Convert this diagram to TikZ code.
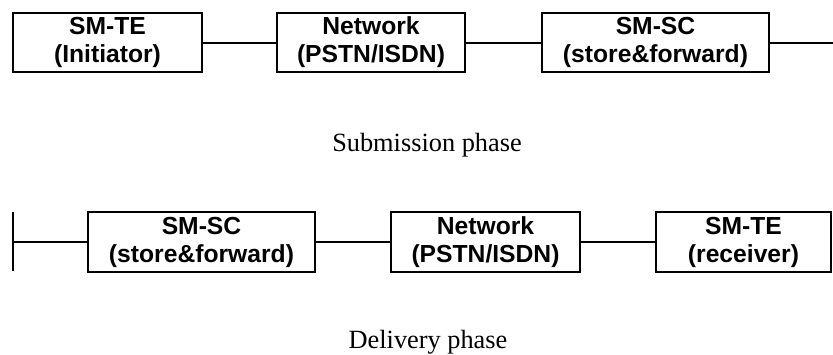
\documentclass[tikz,border=0pt]{standalone}
\usepackage{fontspec}
\setmainfont{Liberation Serif}
\newfontfamily\boxfont{Liberation Sans}
\usepackage{tikz}
\usetikzlibrary{positioning}
\tikzset{
  phasebox/.style={draw=black, line width=1.5pt, inner sep=0pt, align=center,
    font=\boxfont\bfseries\fontsize{18.5pt}{21pt}\selectfont},
  toprow/.style={phasebox, minimum height=44.25pt},
  botrow/.style={phasebox, minimum height=45pt},
  link/.style={line width=1.5pt, color=black},
  caption/.style={anchor=base, font=\fontsize{19.75pt}{22pt}\selectfont}
}
\begin{document}
\begin{tikzpicture}[line cap=rect,line join=miter, x=0.75pt,y=-0.75pt]
\useasboundingbox (0,0) rectangle (833,354);
\node[toprow, minimum width=141.75pt] (te1) at (107.5,42.5) {SM-TE\\(Initiator)};
\node[toprow, minimum width=141pt] (net1) at (371,42.5) {Network\\(PSTN/ISDN)};
\node[toprow, minimum width=170.25pt] (sc1) at (655.5,42.5) {SM-SC\\(store\&forward)};
\coordinate (out1) at (833,42.5);
\draw[link] (te1.east) -- (net1.west);
\draw[link] (net1.east) -- (sc1.west);
\draw[link] (sc1.east) -- (out1);
\node[caption] (sub) at (427,151) {Submission phase};
\node[botrow, minimum width=170.25pt] (sc2) at (201.5,242) {SM-SC\\(store\&forward)};
\node[botrow, minimum width=141.75pt] (net2) at (485.5,242) {Network\\(PSTN/ISDN)};
\node[botrow, minimum width=131.25pt] (te2) at (743.5,242) {SM-TE\\(receiver)};
\coordinate (in2) at (13,242);
\coordinate (in2top) at (13,213);
\coordinate (in2bot) at (13,270);
\draw[link] (in2top) -- (in2bot);
\draw[link] (in2) -- (sc2.west);
\draw[link] (sc2.east) -- (net2.west);
\draw[link] (net2.east) -- (te2.west);
\node[caption] (del) at (428,348) {Delivery phase};
\end{tikzpicture}
\end{document}
